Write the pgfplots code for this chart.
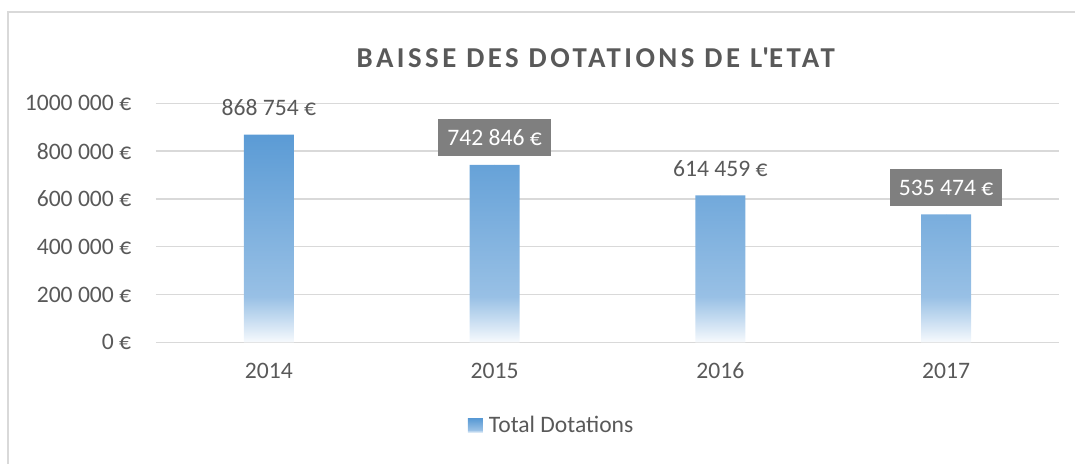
\documentclass[border=0pt]{standalone}
\usepackage{fontspec}
\setmainfont{Carlito}
\newfontfamily\titlefont[LetterSpace=12]{Carlito}
\usepackage{pgfplots}
\pgfplotsset{compat=1.18}
\definecolor{txt}{HTML}{595959}
\definecolor{gridc}{HTML}{D9D9D9}
\definecolor{barTop}{HTML}{5B9BD5}
\definecolor{barLow}{HTML}{98C0E5}
\definecolor{barFade}{HTML}{D3E4F4}
\definecolor{barBot}{HTML}{F7FAFD}
\definecolor{lblbox}{HTML}{7F7F7F}
\pgfdeclareverticalshading{barfade}{100bp}{color(0bp)=(barBot); color(25bp)=(barBot); color(29bp)=(barFade); color(36bp)=(barLow); color(75bp)=(barTop); color(100bp)=(barTop)}
\newcommand\lblfont{\fontsize{11.8pt}{14pt}\selectfont}
\begin{document}
\begin{tikzpicture}
\path[use as bounding box] (-78pt,-60.85pt) rectangle (459.5pt,171.15pt);
\draw[gridc, line width=1pt] (-73.85pt,-70pt) -- (-73.85pt,165.3pt) -- (470pt,165.3pt);
\begin{axis}[
  at={(0,0)}, anchor=south west, scale only axis,
  width=451.5pt, height=119.5pt,
  xmin=-0.5, xmax=3.5, ymin=0, ymax=1000000,
  xtick={0,1,2,3}, xticklabels={2014,2015,2016,2017},
  ytick={0,200000,400000,600000,800000,1000000},
  yticklabels={0 €,200 000 €,400 000 €,600 000 €,800 000 €,1000 000 €},
  scaled y ticks=false,
  axis line style={draw=none},
  major tick length=0pt,
  ymajorgrids, grid style={gridc, line width=0.75pt},
  xticklabel style={anchor=north, inner sep=0pt, text height=7.5pt, text depth=0pt, yshift=-10.35pt, font=\lblfont, text=txt},
  yticklabel style={anchor=east, inner sep=0pt, xshift=-12.2pt, font=\lblfont, text=txt},
  legend style={at={(0.3455,-0.350)}, anchor=west, draw=none, fill=none, inner sep=0pt, outer sep=0pt, column sep=3pt, font=\lblfont, text=txt, nodes={inner sep=0pt}},
  legend image code/.code={\shade[shading=barfade] (0pt,-3.5pt) rectangle (7.5pt,3.5pt);},
  clip=false,
]
\addplot[ybar, bar width=25pt, bar shift=0pt, draw=none, shading=barfade]
  coordinates {(0,868754) (1,742846) (2,614459) (3,535474)};
\addlegendentry{Total Dotations}
\addplot[forget plot, draw=none, mark=*, mark size=0pt, mark options={draw=none,fill=none},
  nodes near coords, point meta=explicit symbolic,
  nodes near coords style={anchor=south, yshift=4pt, inner xsep=4.5pt, inner ysep=5.25pt, text height=8pt, text depth=0pt, font=\lblfont, text=txt}]
  coordinates {(0,868754)[868 754 €] (2,614459)[614 459 €]};
\addplot[forget plot, draw=none, mark=*, mark size=0pt, mark options={draw=none,fill=none},
  nodes near coords, point meta=explicit symbolic,
  nodes near coords style={anchor=south, yshift=4pt, inner xsep=4.5pt, inner ysep=5.25pt, text height=8pt, text depth=0pt, font=\lblfont, text=white, fill=lblbox}]
  coordinates {(1,742846)[742 846 €] (3,535474)[535 474 €]};
\end{axis}
\node[anchor=base, font=\titlefont\fontsize{14.4pt}{16pt}\selectfont\bfseries, text=txt] at (219.9pt,137.5pt) {BAISSE DES DOTATIONS DE L\textquotesingle ETAT};
\end{tikzpicture}
\end{document}
